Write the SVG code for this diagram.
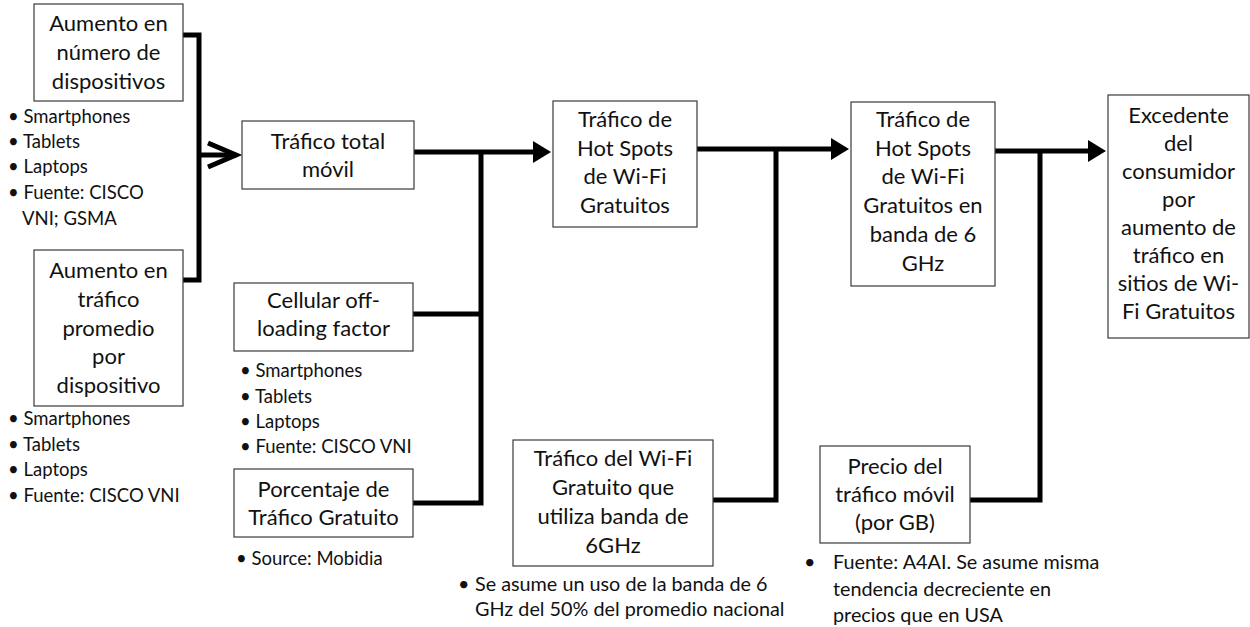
<svg xmlns="http://www.w3.org/2000/svg" width="1250" height="627" viewBox="0 0 1250 627">
<defs>
<style>
.box{fill:#fff;stroke:#3a3a3a;stroke-width:1.2}
.t{font-family:Lato,"Liberation Sans",sans-serif;font-size:22px;fill:#111;text-anchor:middle}
.b{font-family:Lato,"Liberation Sans",sans-serif;font-size:18.5px;fill:#111}
.n{font-family:Lato,"Liberation Sans",sans-serif;font-size:19.8px;fill:#111}
.c{fill:none;stroke:#000;stroke-width:5;stroke-linejoin:miter}
</style>
<marker id="tri" viewBox="0 0 18 22" markerWidth="18" markerHeight="22" markerUnits="userSpaceOnUse" refX="2" refY="11" orient="auto">
<path d="M0,0 L18,11 L0,22 Z" fill="#000"/>
</marker>
</defs>
<rect width="1250" height="627" fill="#fff"/>

<g id="connectors">
<path class="c" d="M183,35 H199 V280 H183"/>
<path class="c" d="M199,155 H236"/>
<path class="c" d="M208,143 L236,155 L208,167"/>
<path class="c" d="M414,152 H535" marker-end="url(#tri)"/>
<path class="c" d="M413,314 H481"/>
<path class="c" d="M413,503 H481 V152"/>
<path class="c" d="M697,149 H833" marker-end="url(#tri)"/>
<path class="c" d="M713,500 H776 V149"/>
<path class="c" d="M995,151 H1090" marker-end="url(#tri)"/>
<path class="c" d="M970,500 H1040 V151"/>
</g>

<g id="n-aumento-dispositivos">
<rect class="box" x="34" y="4" width="149" height="97"/>
<text class="t" x="108.5" y="31">Aumento en</text>
<text class="t" x="108.5" y="60">número de</text>
<text class="t" x="108.5" y="89">dispositivos</text>
</g>
<g id="n-notas-dispositivos">
<text class="b" x="8" y="123">• Smartphones</text>
<text class="b" x="8" y="148">• Tablets</text>
<text class="b" x="8" y="173">• Laptops</text>
<text class="b" x="8" y="199">• Fuente: CISCO</text>
<text class="b" x="22" y="225">VNI; GSMA</text>
</g>

<g id="n-aumento-trafico">
<rect class="box" x="34" y="250" width="149" height="156"/>
<text class="t" x="108.5" y="278">Aumento en</text>
<text class="t" x="108.5" y="307">tráfico</text>
<text class="t" x="108.5" y="336">promedio</text>
<text class="t" x="108.5" y="364">por</text>
<text class="t" x="108.5" y="393">dispositivo</text>
</g>
<g id="n-notas-trafico">
<text class="b" x="8" y="425">• Smartphones</text>
<text class="b" x="8" y="451">• Tablets</text>
<text class="b" x="8" y="476">• Laptops</text>
<text class="b" x="8" y="502">• Fuente: CISCO VNI</text>
</g>

<g id="n-trafico-total">
<rect class="box" x="242" y="121" width="172" height="68"/>
<text class="t" x="328" y="149">Tráfico total</text>
<text class="t" x="328" y="177">móvil</text>
</g>

<g id="n-offloading">
<rect class="box" x="234" y="283" width="179" height="68"/>
<text class="t" x="323.5" y="308">Cellular off-</text>
<text class="t" x="323.5" y="336">loading factor</text>
</g>
<g id="n-notas-offloading">
<text class="b" x="240" y="377">• Smartphones</text>
<text class="b" x="240" y="403">• Tablets</text>
<text class="b" x="240" y="428">• Laptops</text>
<text class="b" x="240" y="453">• Fuente: CISCO VNI</text>
</g>

<g id="n-porcentaje">
<rect class="box" x="234" y="469" width="179" height="68"/>
<text class="t" x="323.5" y="497">Porcentaje de</text>
<text class="t" x="323.5" y="525">Tráfico Gratuito</text>
</g>
<g id="n-notas-porcentaje">
<text class="b" x="236" y="565">• Source: Mobidia</text>
</g>

<g id="n-hotspots">
<rect class="box" x="553" y="101" width="144" height="126"/>
<text class="t" x="625" y="127">Tráfico de</text>
<text class="t" x="625" y="156">Hot Spots</text>
<text class="t" x="625" y="184">de Wi-Fi</text>
<text class="t" x="625" y="213">Gratuitos</text>
</g>

<g id="n-wifi-6ghz">
<rect class="box" x="513" y="440" width="200" height="126"/>
<text class="t" x="613" y="466">Tráfico del Wi-Fi</text>
<text class="t" x="613" y="495">Gratuito que</text>
<text class="t" x="613" y="524">utiliza banda de</text>
<text class="t" x="613" y="553">6GHz</text>
</g>
<g id="n-notas-wifi-6ghz">
<text class="n" x="458" y="591">•</text>
<text class="n" x="475" y="591">Se asume un uso de la banda de 6</text>
<text class="n" x="475" y="616">GHz del 50% del promedio nacional</text>
</g>

<g id="n-hotspots-6ghz">
<rect class="box" x="851" y="102" width="144" height="184"/>
<text class="t" x="923" y="127">Tráfico de</text>
<text class="t" x="923" y="156">Hot Spots</text>
<text class="t" x="923" y="184">de Wi-Fi</text>
<text class="t" x="923" y="213">Gratuitos en</text>
<text class="t" x="923" y="242">banda de 6</text>
<text class="t" x="923" y="271">GHz</text>
</g>

<g id="n-precio">
<rect class="box" x="820" y="446" width="150" height="97"/>
<text class="t" x="895" y="474">Precio del</text>
<text class="t" x="895" y="502">tráfico móvil</text>
<text class="t" x="895" y="530">(por GB)</text>
</g>
<g id="n-notas-precio">
<text class="n" x="804" y="569">•</text>
<text class="n" x="833" y="569">Fuente: A4AI. Se asume misma</text>
<text class="n" x="833" y="596">tendencia decreciente en</text>
<text class="n" x="833" y="622">precios que en USA</text>
</g>

<g id="n-excedente">
<rect class="box" x="1108" y="95" width="141" height="243"/>
<text class="t" x="1178.5" y="123">Excedente</text>
<text class="t" x="1178.5" y="151">del</text>
<text class="t" x="1178.5" y="179">consumidor</text>
<text class="t" x="1178.5" y="207">por</text>
<text class="t" x="1178.5" y="235">aumento de</text>
<text class="t" x="1178.5" y="263">tráfico en</text>
<text class="t" x="1178.5" y="291">sitios de Wi-</text>
<text class="t" x="1178.5" y="319">Fi Gratuitos</text>
</g>
</svg>
